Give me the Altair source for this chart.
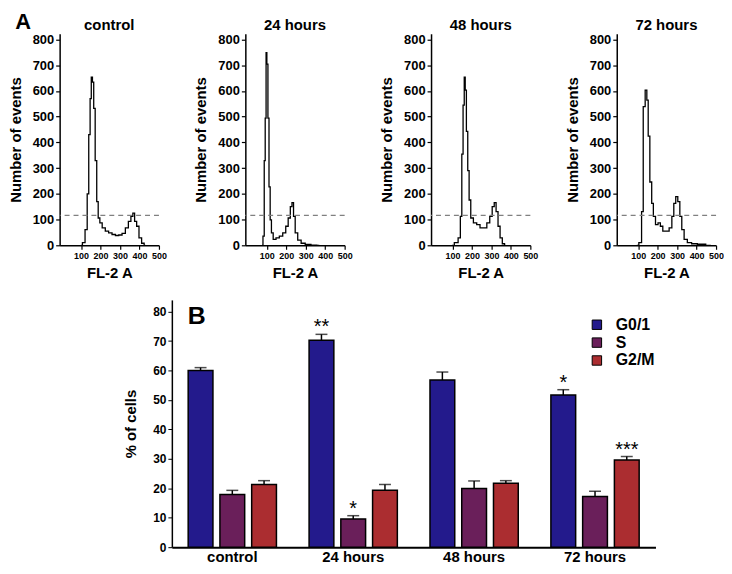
import altair as alt
import pandas as pd

FONT = "Liberation Sans"

# ---------------- Panel A: DNA-content histograms ----------------
CTRL_FL = [100, 114, 127, 136, 143, 150, 155, 162, 168, 177, 184, 192, 201, 216, 233,
           250, 268, 285, 302, 319, 336, 350, 362, 370, 380, 391, 404, 418, 430]
CTRL_N = [0, 10, 61, 200, 430, 570, 653, 634, 532, 329, 170, 106, 87, 68, 55,
          48, 42, 38, 40, 46, 68, 93, 112, 125, 93, 74, 29, 8, 0]

H24_FL = [76, 85, 89, 95, 98, 103, 109, 114, 121, 127, 139, 156, 173, 191, 204,
          216, 226, 233, 242, 250, 268, 285, 310, 344, 370]
H24_N = [0, 36, 329, 494, 749, 704, 494, 227, 99, 48, 23, 29, 36, 48, 74,
         106, 150, 166, 112, 48, 20, 8, 3, 1, 0]

H48_FL = [97, 122, 136, 145, 151, 158, 163, 168, 175, 182, 189, 199, 216, 233, 250,
          268, 285, 298, 310, 319, 329, 339, 350, 362, 373]
H48_N = [0, 10, 29, 112, 354, 545, 653, 603, 443, 290, 176, 106, 87, 80, 68,
         68, 87, 112, 150, 166, 131, 74, 29, 6, 0]

H72_FL = [93, 114, 121, 131, 141, 148, 155, 165, 174, 182, 196, 208, 220, 233, 250,
          268, 278, 288, 298, 309, 319, 329, 343, 362, 387, 421, 473]
H72_N = [0, 10, 131, 539, 603, 564, 424, 246, 163, 112, 80, 87, 74, 55, 55,
         68, 112, 163, 189, 170, 112, 61, 23, 10, 6, 4, 0]

HIST_TITLES = ["control", "24 hours", "48 hours", "72 hours"]
THRESHOLD = 116
HIST_X_TICKS = [100, 200, 300, 400, 500]
HIST_Y_TICKS = [0, 100, 200, 300, 400, 500, 600, 700, 800]

# ---------------- Panel B: cell-cycle distribution ----------------
CONDITIONS = ["control", "24 hours", "48 hours", "72 hours"]
PHASES = ["G0/1", "S", "G2/M"]
COLORS = ["#231a8c", "#6a1f5a", "#ab2d30"]
G01 = [60.0, 70.3, 56.8, 51.7]
G01_ERR = [1.0, 2.0, 2.7, 1.8]
S_PH = [17.9, 9.6, 19.9, 17.2]
S_ERR = [1.4, 1.1, 2.6, 1.8]
G2M = [21.3, 19.3, 21.7, 29.6]
G2M_ERR = [1.3, 2.0, 0.9, 1.2]
SIG_G01 = ["", "**", "", "*"]
SIG_S = ["", "*", "", ""]
SIG_G2M = ["", "", "", "***"]
BAR_Y_TICKS = [0, 10, 20, 30, 40, 50, 60, 70, 80]

HW, HH = 100, 213

hx_axis = alt.Axis(values=HIST_X_TICKS, title="FL-2 A", labelFontSize=9,
                   labelFontWeight="bold", labelFlush=False, labelOverlap=False,
                   titleFontSize=15, titleFontWeight="bold", titlePadding=5,
                   tickSize=4, domainColor="black", tickColor="black",
                   labelColor="black", titleColor="black", grid=False,
                   domainWidth=1.5, tickWidth=1.2)
hy_axis = alt.Axis(values=HIST_Y_TICKS, title="Number of events", labelFontSize=13,
                   labelFontWeight="bold", labelOverlap=False, titleFontSize=15,
                   titleFontWeight="bold", titlePadding=9, tickSize=4,
                   domainColor="black", tickColor="black", labelColor="black",
                   titleColor="black", grid=False, domainWidth=1.5, tickWidth=1.2)
hx_scale = alt.Scale(domain=[-10, 500], nice=False, zero=False)
hy_scale = alt.Scale(domain=[0, 822], nice=False)


def hist(title, fl, n):
    df = pd.DataFrame({"FL": fl, "N": n})
    line = alt.Chart(df).mark_line(interpolate="step", color="black", strokeWidth=1.3).encode(
        x=alt.X("FL:Q", scale=hx_scale, axis=hx_axis),
        y=alt.Y("N:Q", scale=hy_scale, axis=hy_axis))
    rule = alt.Chart(pd.DataFrame({"N": [THRESHOLD]})).mark_rule(
        color="#808080", strokeDash=[5, 4], strokeWidth=1.3).encode(
        y=alt.Y("N:Q", scale=hy_scale, axis=hy_axis))
    return alt.layer(line, rule).properties(
        width=HW, height=HH,
        title=alt.TitleParams(title, fontSize=15, fontWeight="bold", offset=0, color="black"))


h_charts = [hist(HIST_TITLES[0], CTRL_FL, CTRL_N),
            hist(HIST_TITLES[1], H24_FL, H24_N),
            hist(HIST_TITLES[2], H48_FL, H48_N),
            hist(HIST_TITLES[3], H72_FL, H72_N)]

rows = []
for phase, vals, errs, sigs in [("G0/1", G01, G01_ERR, SIG_G01), ("S", S_PH, S_ERR, SIG_S),
                                ("G2/M", G2M, G2M_ERR, SIG_G2M)]:
    for c, v, e, s in zip(CONDITIONS, vals, errs, sigs):
        rows.append({"cond": c, "phase": phase, "val": v, "hi": v + e, "sig": s})
bdf = pd.DataFrame(rows)

bx = alt.X("cond:N", sort=CONDITIONS, scale=alt.Scale(paddingInner=0.27, paddingOuter=0.135),
           axis=alt.Axis(title=None, labelAngle=0, ticks=False, labelFontSize=15,
                         labelFontWeight="bold", labelColor="black", labelPadding=2,
                         domainColor="black", domainWidth=2))
bxo = alt.XOffset("phase:N", sort=PHASES, scale=alt.Scale(paddingInner=0.22, paddingOuter=0))
by_scale = alt.Scale(domain=[0, 84], nice=False)
by_axis = alt.Axis(values=BAR_Y_TICKS, title="% of cells", labelFontSize=12,
                   labelFontWeight="bold", labelColor="black", labelOverlap=False,
                   titleFontSize=15, titleFontWeight="bold", titleColor="black",
                   titlePadding=14, tickSize=4, tickColor="black", domainColor="black",
                   domainWidth=1.5, grid=False)

bars = alt.Chart(bdf).mark_bar(stroke="black", strokeWidth=1.5).encode(
    x=bx, xOffset=bxo, y=alt.Y("val:Q", scale=by_scale, axis=by_axis),
    color=alt.Color("phase:N", sort=PHASES, scale=alt.Scale(domain=PHASES, range=COLORS),
                    legend=alt.Legend(title=None, orient="none", legendX=533, legendY=285,
                                      symbolType="square", symbolSize=90,
                                      symbolStrokeColor="black", symbolStrokeWidth=1,
                                      symbolOpacity=1, labelFontSize=16,
                                      labelFontWeight="bold", labelColor="black",
                                      rowPadding=2, labelOffset=11)))
err = alt.Chart(bdf).mark_rule(color="black", strokeWidth=1.5).encode(
    x=bx, xOffset=bxo, y=alt.Y("val:Q", scale=by_scale, axis=by_axis), y2="hi:Q")
cap = alt.Chart(bdf).mark_tick(color="black", thickness=1.5, size=12).encode(
    x=bx, xOffset=bxo, y=alt.Y("hi:Q", scale=by_scale, axis=by_axis))
stars = alt.Chart(bdf).mark_text(fontSize=20, baseline="alphabetic", dy=-1, color="black").encode(
    x=bx, xOffset=bxo, y=alt.Y("hi:Q", scale=by_scale, axis=by_axis), text="sig:N")
blab = alt.Chart(pd.DataFrame({"t": ["B"]})).mark_text(
    fontSize=25, fontWeight="bold", align="left", baseline="alphabetic", color="black"
).encode(text="t:N", x=alt.value(16), y=alt.value(24))

bar_chart = alt.layer(bars, err, cap, stars, blab).properties(width=487, height=249)

spacer = alt.Chart(pd.DataFrame({"a": [0]})).mark_text(text="").encode(
    x=alt.value(5), y=alt.value(5)).properties(width=64, height=10)

top = alt.hconcat(*h_charts, spacing=27)
bottom = alt.hconcat(spacer, bar_chart, spacing=0)

chart = alt.vconcat(top, bottom, spacing=19).properties(
    padding={"left": 0, "top": 0, "right": 0, "bottom": 0},
    title=alt.TitleParams("A", fontSize=22, fontWeight="bold", anchor="start",
                          offset=-15, dx=7, color="black")
).configure(font=FONT).configure_view(strokeWidth=0)

chart.save("out.html", embed_options={"renderer": "svg", "actions": False})
